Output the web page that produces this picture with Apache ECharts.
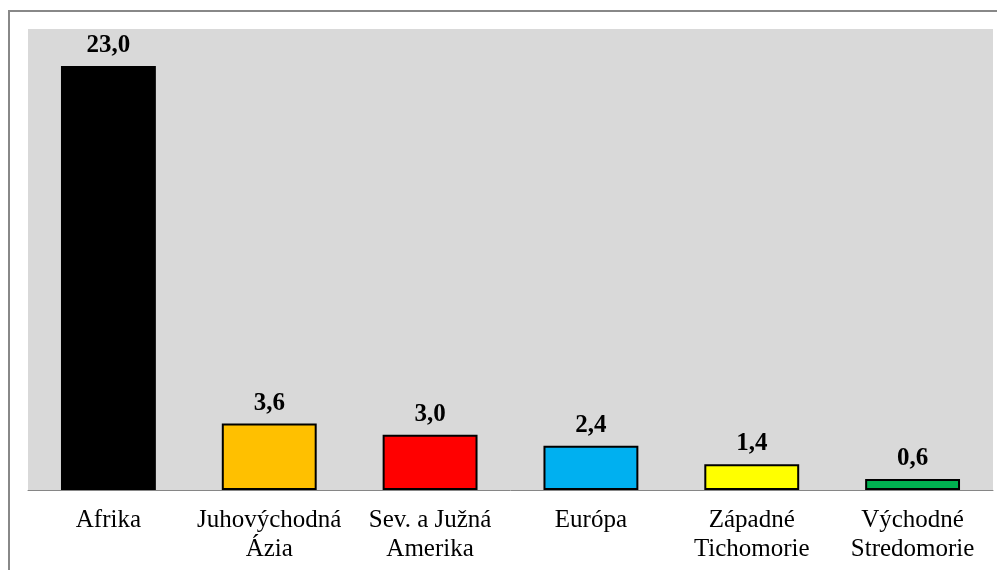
<!DOCTYPE html>
<html>
<head>
<meta charset="utf-8">
<script src="https://cdn.jsdelivr.net/npm/echarts@6/dist/echarts.min.js"></script>
<style>
  html, body { margin: 0; padding: 0; background: #fff; }
  #main { width: 997px; height: 570px; }
</style>
</head>
<body>
<div id="main"></div>
<script>
// regióny a hodnoty
let categories = ['Afrika', 'Juhovýchodná\nÁzia', 'Sev. a Južná\nAmerika', 'Európa', 'Západné\nTichomorie', 'Východné\nStredomorie'];
let values = [23.0, 3.6, 3.0, 2.4, 1.4, 0.6];
let barColors = ['#000000', '#ffc000', '#ff0000', '#00b0f0', '#ffff00', '#00b050'];

let myChart = echarts.init(document.getElementById('main'));

let option = {
    animation: false,
    textStyle: { fontFamily: 'Liberation Serif' },
    graphic: [{
        type: 'rect',
        shape: { x: 9, y: 11, width: 1000, height: 600 },
        style: { fill: 'none', stroke: '#888888', lineWidth: 2 },
        z: -1
    }],
    grid: {
        left: 28,
        right: 4,
        top: 29,
        bottom: 80,
        show: true,
        backgroundColor: '#d9d9d9',
        borderWidth: 0
    },
    xAxis: {
        type: 'category',
        data: categories,
        axisTick: { show: false },
        axisLine: { lineStyle: { color: '#868686', width: 1 } },
        axisLabel: {
            interval: 0,
            margin: 16,
            color: '#000',
            fontSize: 25,
            lineHeight: 29,
            fontFamily: 'Liberation Serif'
        }
    },
    yAxis: {
        type: 'value',
        min: 0,
        max: 25,
        show: false,
        splitLine: { show: false }
    },
    series: [{
        type: 'bar',
        barWidth: '59%',
        data: values.map((v, i) => ({
            value: v,
            itemStyle: { color: barColors[i], borderColor: '#000', borderWidth: 2 }
        })),
        label: {
            show: true,
            position: 'top',
            distance: 8,
            color: '#000',
            fontSize: 25,
            fontWeight: 'bold',
            fontFamily: 'Liberation Serif',
            formatter: (p) => p.value.toFixed(1).replace('.', ',')
        }
    }]
};

myChart.setOption(option);
</script>
</body>
</html>
